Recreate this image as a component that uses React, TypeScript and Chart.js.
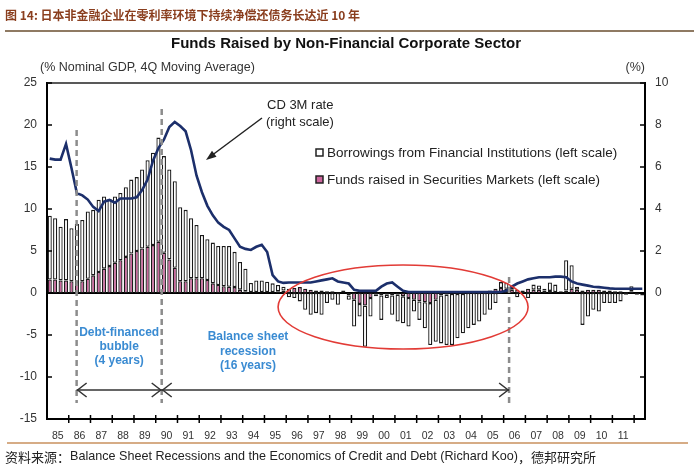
import React, { useEffect, useRef } from 'react';
import { Chart, registerables } from 'chart.js';

Chart.register(...registerables);

// ---------- DATA ----------
const YEAR_LABELS = ['85','86','87','88','89','90','91','92','93','94','95','96','97','98','99','00','01','02','03','04','05','06','07','08','09','10','11'];
const EXTRA_QUARTERS = ['12Q1', '12Q2'];
const QUARTERS = [
  ...YEAR_LABELS.flatMap((y) => ['Q1', 'Q2', 'Q3', 'Q4'].map((q) => y + q)),
  ...EXTRA_QUARTERS,
];

// Borrowings from Financial Institutions (% of nominal GDP, left scale)
const BORROWINGS = [
  7.6, 7.3, 6.4, 7.3,      // 85
  6.3, 6.9, 7.3, 8.0,      // 86
  7.8, 8.6, 8.6, 8.0,      // 87
  7.9, 8.0, 8.3, 8.8,      // 88
  8.8, 9.4, 10.3, 11.0,    // 89
  12.4, 11.5, 10.7, 10.3,  // 90
  8.8, 8.5, 7.15, 6.35,    // 91
  5.15, 4.85, 4.85, 4.65,  // 92
  4.8, 4.85, 4.2, 3.3,     // 93
  2.7, 1.1, 1.4, 1.4,      // 94
  1.25, 1.05, 0.75, 0.45,  // 95
  -0.5, -0.6, -1.0, -2.0,  // 96
  -2.6, -2.4, -2.6, -1.2,  // 97
  -0.8, -1.4, 0.2, -0.5,   // 98
  -3.2, -1.5, -4.9, -2.2,  // 99
  -0.2, -2.9, -0.4, -2.3,  // 00
  -3.2, -3.2, -3.4, -1.4,  // 01
  -2.2, -3.1, -5.0, -5.0,  // 02
  -5.7, -6.0, -6.1, -5.3,  // 03
  -4.7, -4.2, -3.8, -3.4,  // 04
  -2.6, -2.0, -1.2, 0.7,   // 05
  0.7, 0.3, -0.5, 0.0,     // 06
  -0.6, 0.6, 0.5, 0.2,     // 07
  1.0, 0.9, 0.1, 3.6,      // 08
  2.8, 0.35, -3.8, -2.8,   // 09
  -2.0, -2.2, -1.2, -1.2,  // 10
  -1.2, -1.0, -0.2, 0.6,   // 11
  -0.2, -0.2,              // 12
];

// Funds raised in Securities Markets (% of nominal GDP, left scale)
const SECURITIES = [
  1.6, 1.6, 1.5, 1.5,
  1.4, 1.3, 1.4, 1.7,
  2.1, 2.5, 2.9, 3.2,
  3.6, 3.9, 4.3, 4.7,
  5.0, 5.3, 5.5, 5.7,
  6.1, 4.8, 4.0, 3.0,
  1.4, 1.4, 1.75, 1.75,
  1.75, 1.55, 1.15, 0.95,
  0.8, 0.75, 0.7, 0.4,
  0.2, 0.1, 0.1, 0.1,
  0.1, 0.1, 0.2, 0.3,
  0.5, 0.6, 0.7, 0.5,
  0.4, 0.3, 0.3, 0.2,
  0.2, 0.1, 0.1, -0.3,
  -0.8, -1.3, -1.5, -0.6,
  -0.2, -0.3, -0.2, -0.3,
  -0.2, -0.4, -0.6, -0.8,
  -1.0, -1.1, -1.2, -0.8,
  -0.3, -0.2, -0.1, -0.1,
  -0.1, 0.0, 0.1, 0.1,
  0.2, 0.3, 0.5, 0.6,
  0.5, 0.4, 0.4, 0.3,
  0.5, 0.4, 0.4, 0.3,
  0.25, 0.1, 0.1, 0.3,
  0.5, 0.4, 0.3, 0.4,
  0.4, 0.4, 0.3, 0.3,
  0.2, 0.2, 0.1, 0.2,
  0.0, -0.1,
];

// CD 3M rate (%, right scale)
const CD_RATE = [
  6.4, 6.35, 6.35, 7.1,
  5.95, 4.75, 4.65, 4.45,
  4.1, 3.9, 4.35, 4.43,
  4.3, 4.5, 4.5, 4.5,
  4.56, 4.9, 5.4, 6.3,
  6.9, 7.3, 7.9, 8.15,
  7.95, 7.7, 6.8, 5.6,
  4.8, 4.15, 3.7, 3.35,
  3.15, 3.0, 2.6, 2.2,
  2.1, 2.05, 2.2, 2.3,
  1.95, 0.85, 0.55, 0.48,
  0.5, 0.5, 0.5, 0.5,
  0.5, 0.55, 0.6, 0.65,
  0.7, 0.55, 0.5, 0.45,
  0.15, 0.1, 0.1, 0.1,
  0.1, 0.3, 0.45, 0.5,
  0.3, 0.1, 0.05, 0.05,
  0.05, 0.05, 0.05, 0.05,
  0.05, 0.05, 0.05, 0.05,
  0.05, 0.05, 0.05, 0.05,
  0.05, 0.05, 0.05, 0.05,
  0.1, 0.3, 0.45, 0.55,
  0.65, 0.7, 0.75, 0.75,
  0.75, 0.78, 0.78, 0.75,
  0.55, 0.45, 0.4, 0.35,
  0.3, 0.28, 0.25, 0.22,
  0.2, 0.2, 0.2, 0.2,
  0.2, 0.2,
];

// Phase markers (position in quarters from 85Q1)
const PHASE_MARKS = [4.95, 20.6, 84.5];

// ---------- STYLE ----------
const FONT = '"Liberation Sans", Arial, Helvetica, sans-serif';
const CJK = '"Noto Sans CJK SC", "Noto Sans CJK JP", sans-serif';
const BLUE_TEXT = '#3A8BD2';
const PINK = '#CC659D';

function line(ctx: CanvasRenderingContext2D, x1: number, y1: number, x2: number, y2: number) {
  ctx.beginPath();
  ctx.moveTo(x1, y1);
  ctx.lineTo(x2, y2);
  ctx.stroke();
}

function chevron(ctx: CanvasRenderingContext2D, x: number, y: number, dir: number) {
  ctx.beginPath();
  ctx.moveTo(x - dir * 9, y - 7);
  ctx.lineTo(x, y);
  ctx.lineTo(x - dir * 9, y + 7);
  ctx.stroke();
}

const decor = {
  id: 'decor',
  beforeDatasetsDraw(chart: any) {
    const { ctx, chartArea: a, scales } = chart;
    const y0 = scales.y.getPixelForValue(0);
    ctx.save();
    ctx.strokeStyle = '#000';
    ctx.lineWidth = 2;
    line(ctx, a.left, y0, a.right, y0);
    ctx.restore();
  },
  afterDraw(chart: any) {
    const { ctx, chartArea: a, scales } = chart;
    const xs = scales.x;
    const ys = scales.y;
    const p0 = xs.getPixelForValue(0);
    const w = xs.getPixelForValue(1) - p0;
    const qx = (q: number) => p0 + q * w;

    ctx.save();

    // header
    ctx.textBaseline = 'middle';
    ctx.fillStyle = '#8A3E1E';
    ctx.font = `bold 12px ${CJK}`;
    ctx.textAlign = 'left';
    ctx.fillText('图 14: 日本非金融企业在零利率环境下持续净偿还债务长达近 10 年', 5, 15);
    ctx.strokeStyle = '#8F7A63';
    ctx.lineWidth = 2;
    line(ctx, 5, 31, 694, 31);

    // chart title
    ctx.fillStyle = '#111';
    ctx.font = `bold 15px ${FONT}`;
    ctx.textAlign = 'center';
    ctx.fillText('Funds Raised by Non-Financial Corporate Sector', 346, 44);

    // axis units
    ctx.font = `12.5px ${FONT}`;
    ctx.fillStyle = '#333';
    ctx.textAlign = 'left';
    ctx.fillText('(% Nominal GDP, 4Q Moving Average)', 40, 68);
    ctx.textAlign = 'right';
    ctx.fillText('(%)', 645, 68);

    // frame: top and bottom lines
    ctx.strokeStyle = '#222';
    ctx.lineWidth = 1.5;
    line(ctx, a.left, a.top, a.right, a.top);
    ctx.strokeStyle = '#000';
    ctx.lineWidth = 2;
    line(ctx, a.left - 1, a.bottom, a.right + 1, a.bottom);

    // inner ticks on y axes
    ctx.lineWidth = 1.5;
    for (let v = -15; v <= 25; v += 5) {
      const y = ys.getPixelForValue(v);
      line(ctx, a.left, y, a.left + 5, y);
    }
    const y2 = scales.y2;
    for (let v = -6; v <= 10; v += 2) {
      const y = y2.getPixelForValue(v);
      line(ctx, a.right - 5, y, a.right, y);
    }

    // year tick marks and labels
    ctx.font = `10.5px ${FONT}`;
    ctx.fillStyle = '#333';
    ctx.textAlign = 'center';
    YEAR_LABELS.forEach((lab, k) => {
      const c = (qx(4 * k) + qx(4 * k + 3)) / 2;
      ctx.fillText(lab, c, a.bottom + 17);
      const b = qx(4 * k + 4) - w / 2;
      line(ctx, b, a.bottom - 4, b, a.bottom + 4);
    });

    // phase dashed lines
    ctx.strokeStyle = '#8C8C8C';
    ctx.lineWidth = 2.5;
    ctx.setLineDash([6, 4]);
    const tops = [19.4, 21.9, 1.9];
    PHASE_MARKS.forEach((q, i) => {
      const x = qx(q);
      line(ctx, x, ys.getPixelForValue(tops[i]), x, ys.getPixelForValue(-13.1));
    });
    ctx.setLineDash([]);

    // phase arrows
    const ya = ys.getPixelForValue(-11.55);
    const xA = qx(PHASE_MARKS[0]);
    const xB = qx(PHASE_MARKS[1]);
    const xC = qx(PHASE_MARKS[2]);
    ctx.strokeStyle = '#333';
    ctx.lineWidth = 1.5;
    line(ctx, xA, ya, xB, ya);
    line(ctx, xB, ya, xC, ya);
    chevron(ctx, xA + 1, ya, -1);
    chevron(ctx, xB - 1, ya, 1);
    chevron(ctx, xB + 1, ya, -1);
    chevron(ctx, xC - 1, ya, 1);

    // phase texts
    ctx.fillStyle = BLUE_TEXT;
    ctx.font = `bold 12px ${FONT}`;
    ctx.textAlign = 'center';
    const cA = (xA + xB) / 2;
    ['Debt-financed', 'bubble', '(4 years)'].forEach((t, i) => ctx.fillText(t, cA, 333 + i * 14));
    ['Balance sheet', 'recession', '(16 years)'].forEach((t, i) => ctx.fillText(t, 248, 337 + i * 14.5));

    // red ellipse
    ctx.strokeStyle = '#E23B36';
    ctx.lineWidth = 1.6;
    ctx.beginPath();
    ctx.ellipse(qx(65), ys.getPixelForValue(-1.67), 125, 42, 0, 0, Math.PI * 2);
    ctx.stroke();

    // CD label + arrow
    ctx.fillStyle = '#222';
    ctx.font = `13px ${FONT}`;
    ctx.textAlign = 'left';
    ctx.fillText('CD 3M rate', 267, 105);
    ctx.fillText('(right scale)', 266, 122);
    const ax1 = 262, ay1 = 118, ax2 = 206, ay2 = 160;
    ctx.strokeStyle = '#222';
    ctx.lineWidth = 1.5;
    line(ctx, ax1, ay1, ax2 + 5, ay2 - 4);
    const ang = Math.atan2(ay2 - ay1, ax2 - ax1);
    ctx.beginPath();
    ctx.moveTo(ax2, ay2);
    ctx.lineTo(ax2 - 11 * Math.cos(ang - 0.35), ay2 - 11 * Math.sin(ang - 0.35));
    ctx.lineTo(ax2 - 11 * Math.cos(ang + 0.35), ay2 - 11 * Math.sin(ang + 0.35));
    ctx.closePath();
    ctx.fill();

    // legend
    const legend = [
      { t: 'Borrowings from Financial Institutions (left scale)', fill: '#FFFFFF', y: 153 },
      { t: 'Funds raised in Securities Markets (left scale)', fill: PINK, y: 180 },
    ];
    ctx.font = `13.5px ${FONT}`;
    legend.forEach((l) => {
      ctx.fillStyle = l.fill;
      ctx.fillRect(316, l.y - 4, 7, 7);
      ctx.strokeStyle = '#222';
      ctx.lineWidth = 1.5;
      ctx.strokeRect(316, l.y - 4, 7, 7);
      ctx.fillStyle = '#222';
      ctx.fillText(l.t, 327, l.y);
    });

    // footer
    ctx.strokeStyle = '#C8905E';
    ctx.lineWidth = 1.5;
    line(ctx, 7, 443, 688, 443);
    let fx = 5;
    const fy = 457;
    ctx.fillStyle = '#222';
    ctx.font = `13px ${CJK}`;
    const s1 = '资料来源：';
    ctx.fillText(s1, fx, fy);
    fx += ctx.measureText(s1).width;
    ctx.font = `12.6px ${FONT}`;
    const s2 = 'Balance Sheet Recessions and the Economics of Credit and Debt (Richard Koo)';
    ctx.fillText(s2, fx, fy);
    fx += ctx.measureText(s2).width;
    ctx.font = `13px ${CJK}`;
    ctx.fillText('，德邦研究所', fx, fy);

    ctx.restore();
  },
};

export default function App() {
  const ref = useRef<HTMLCanvasElement>(null);
  useEffect(() => {
    const chart = new Chart(ref.current as HTMLCanvasElement, {
      type: 'bar',
      data: {
        labels: QUARTERS,
        datasets: [
          {
            type: 'line',
            label: 'CD 3M rate (right scale)',
            data: CD_RATE,
            yAxisID: 'y2',
            borderColor: '#1C2F6B',
            borderWidth: 2.6,
            pointRadius: 0,
            tension: 0,
            order: 0,
          } as any,
          {
            label: 'Funds raised in Securities Markets (left scale)',
            data: SECURITIES,
            yAxisID: 'y',
            backgroundColor: PINK,
            borderColor: '#1a1a1a',
            borderWidth: 1.3,
            borderSkipped: false,
            barPercentage: 0.76,
            categoryPercentage: 1,
            order: 1,
          },
          {
            label: 'Borrowings from Financial Institutions (left scale)',
            data: BORROWINGS,
            yAxisID: 'y',
            backgroundColor: '#FFFFFF',
            borderColor: '#1a1a1a',
            borderWidth: 1.3,
            borderSkipped: false,
            barPercentage: 0.76,
            categoryPercentage: 1,
            order: 2,
          },
        ],
      },
      options: {
        responsive: false,
        devicePixelRatio: 1,
        animation: false,
        layout: { padding: { top: 83, bottom: 54, left: 0, right: 0 } },
        plugins: { legend: { display: false }, tooltip: { enabled: false }, title: { display: false } },
        scales: {
          x: { type: 'category', display: false, stacked: true, offset: true },
          y: {
            position: 'left',
            stacked: true,
            min: -15,
            max: 25,
            ticks: { stepSize: 5, padding: 10, color: '#333', font: { family: FONT, size: 12 } },
            grid: { display: false, drawTicks: false },
            border: { display: true, color: '#000', width: 2 },
            afterFit: (s: any) => { s.width = 47; },
          },
          y2: {
            position: 'right',
            min: -6,
            max: 10,
            ticks: {
              stepSize: 2,
              padding: 10,
              color: '#333',
              font: { family: FONT, size: 12 },
              callback: (v: any) => (Number(v) >= 0 ? String(v) : ''),
            },
            grid: { display: false, drawTicks: false },
            border: { display: true, color: '#000', width: 2 },
            afterFit: (s: any) => { s.width = 55; },
          },
        },
      },
      plugins: [decor],
    } as any);
    return () => chart.destroy();
  }, []);
  return (
    <div style={{ position: 'absolute', left: 0, top: 0, width: 700, height: 473, background: '#fff' }}>
      <canvas ref={ref} width={700} height={473} style={{ display: 'block', width: 700, height: 473 }} />
    </div>
  );
}
